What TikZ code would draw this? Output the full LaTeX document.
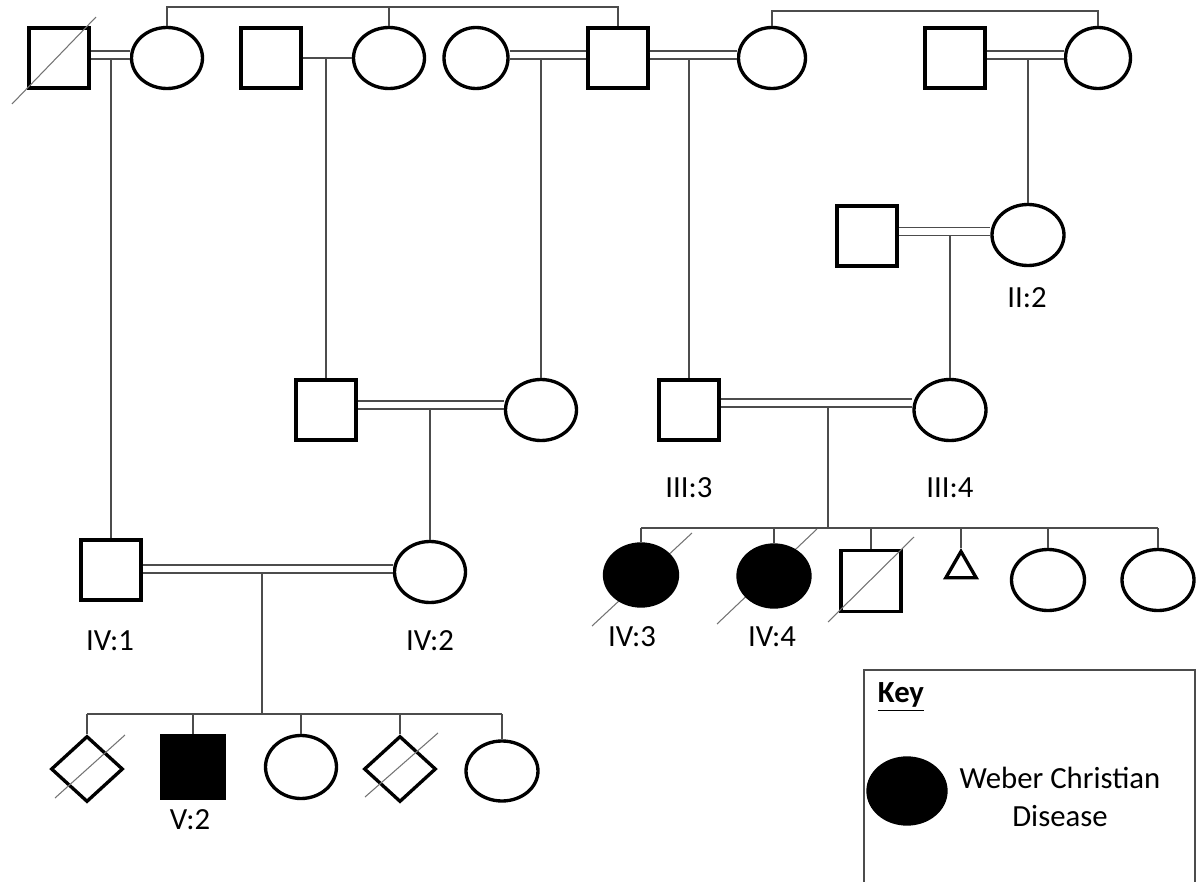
\documentclass[tikz,border=0pt]{standalone}
\usepackage{fontspec}
\setmainfont{Carlito}
\usepackage{tikz}
\usetikzlibrary{shapes.geometric, backgrounds}

\begin{document}
\begin{tikzpicture}[
    x=0.02cm, y=-0.02cm,
    male/.style={
        rectangle,
        draw=black,
        line width=1.9pt,
        minimum size=1.2cm,
        inner sep=0pt
    },
    female/.style={
        ellipse,
        draw=black,
        line width=1.9pt,
        minimum width=1.42cm,
        minimum height=1.22cm,
        inner sep=0pt
    },
    unknown/.style={
        diamond,
        draw=black,
        line width=1.9pt,
        minimum width=1.44cm,
        minimum height=1.32cm,
        inner sep=0pt
    },
    miscarriage/.style={
        regular polygon,
        regular polygon sides=3,
        draw=black,
        line width=1.9pt,
        minimum size=0.7cm,
        inner sep=0pt
    },
    affected/.style={fill=black},
    link/.style={draw=black!70, line width=0.7pt},
    marriage/.style={
        draw=black!70,
        line width=0.7pt,
        double=white,
        double distance=3.85pt
    },
    slash/.style={draw=black!55, line width=0.6pt},
    tag/.style={font=\fontsize{17.5}{20}\selectfont, inner sep=0pt}
]
\useasboundingbox (0,0) rectangle (1198,882);

% --- Generation I ---
\node[male] (i1) at (59,58) {};
\node[female] (i2) at (167,58) {};
\node[male] (i3) at (271,58) {};
\node[female] (i4) at (389,58) {};
\node[female, minimum width=1.28cm] (i5) at (476,58) {};
\node[male] (i6) at (618,58) {};
\node[female, minimum width=1.34cm] (i7) at (772,58) {};
\node[male] (i8) at (955,58) {};
\node[female, minimum width=1.3cm] (i9) at (1098,58) {};

\draw[slash] ([shift={(-47,46)}]i1.center) -- ([shift={(37,-41)}]i1.center);

\draw[link] (i2.north) -- (i2.north |- 0,7) -- (i6.north |- 0,7) -- (i6.north);
\draw[link] (i4.north) -- (i4.north |- 0,7);
\draw[link] (i7.north) -- (i7.north |- 0,11) -- (i9.north |- 0,11) -- (i9.north);

\draw[marriage] (i1.east |- 0,55) -- (i2.west |- 0,55);
\draw[link] (i3.east) -- (i4.west);
\draw[marriage] (i5.east |- 0,55) -- (i6.west |- 0,55);
\draw[marriage] (i6.east |- 0,55) -- (i7.west |- 0,55);
\draw[marriage] (i8.east |- 0,55) -- (i9.west |- 0,55);

% --- Generation II ---
\node[male] (ii1) at (867,236) {};
\node[female, minimum width=1.44cm] (ii2) at (1028,235) {};
\node[tag] (l-ii2) at (1027,298) {II:2};

\draw[link] (ii2.north) -- (ii2.north |- 0,59);
\draw[marriage] (ii1.east |- 0,231.5) -- (ii2.west |- 0,231.5);

% --- Generation III ---
\node[male] (iii1) at (326,410) {};
\node[female] (iii2) at (541,410) {};
\node[male] (iii3) at (689,410) {};
\node[female, minimum width=1.44cm] (iii4) at (950,410) {};
\node[tag] (l-iii3) at (689,488) {III:3};
\node[tag] (l-iii4) at (950,488) {III:4};

\draw[link] (iii1.north) -- (iii1.north |- i3.east);
\draw[link] (iii2.north) -- (iii2.north |- 0,59);
\draw[link] (iii3.north) -- (iii3.north |- 0,59);
\draw[link] (iii4.north) -- (iii4.north |- 0,236);

\draw[marriage] (iii1.east |- 0,405) -- (iii2.west |- 0,405);
\draw[marriage] (iii3.east |- 0,403) -- (iii4.west |- 0,403);

% --- Generation IV ---
\node[male] (iv1) at (111,570) {};
\node[female] (iv2) at (430,572) {};
\node[tag] (l-iv1) at (110,641) {IV:1};
\node[tag] (l-iv2) at (430,641) {IV:2};

\draw[link] (iv1.north) -- (iv1.north |- 0,59);
\draw[link] (iv2.north) -- (iv2.north |- 0,410);
\draw[marriage] (iv1.east |- 0,569) -- (iv2.west |- 0,569);

\node[female, affected, minimum width=1.46cm, minimum height=1.24cm] (iv3) at (641,575) {};
\node[female, affected, minimum width=1.44cm, minimum height=1.24cm] (iv4) at (774,576) {};
\node[male, minimum width=1.2cm, minimum height=1.22cm] (iv5) at (871,581) {};
\node[miscarriage] (iv6) at (961,569) {};
\node[female, minimum width=1.46cm] (iv7) at (1048,580) {};
\node[female, minimum width=1.44cm] (iv8) at (1158,580) {};
\node[tag] (l-iv3) at (632,637) {IV:3};
\node[tag] (l-iv4) at (772,637) {IV:4};

\begin{scope}[on background layer]
\draw[slash] ([shift={(-49,51)}]iv3.center) -- ([shift={(51,-42)}]iv3.center);
\draw[slash] ([shift={(-57,48)}]iv4.center) -- ([shift={(43,-47)}]iv4.center);
\end{scope}
\draw[slash] ([shift={(-43,41)}]iv5.center) -- ([shift={(43,-44)}]iv5.center);

\coordinate (sibR) at (828,528);
\draw[link] (sibR |- 0,407) -- (sibR);
\draw[link] (iv3.north |- sibR) -- (iv8.north |- sibR);
\foreach \n in {iv3,iv4,iv5,iv6,iv7,iv8}
    \draw[link] (\n.north) -- (\n.north |- sibR);

% --- Generation V ---
\node[unknown] (v1) at (87,769) {};
\node[male, affected, minimum size=1.26cm] (v2) at (193,767) {};
\node[female, minimum height=1.26cm] (v3) at (301,767) {};
\node[unknown] (v4) at (400,769) {};
\node[female, minimum width=1.44cm, minimum height=1.2cm] (v5) at (502,771) {};
\node[tag] (l-v2) at (190,820) {V:2};

\draw[slash] ([shift={(-32,29)}]v1.center) -- ([shift={(38,-34)}]v1.center);
\draw[slash] ([shift={(-35,28)}]v4.center) -- ([shift={(38,-36)}]v4.center);

\coordinate (sibL) at (262,714);
\draw[link] (sibL |- 0,573) -- (sibL);
\draw[link] (v1.north |- sibL) -- (v5.north |- sibL);
\foreach \n in {v1,v2,v3,v4,v5}
    \draw[link] (\n.north) -- (\n.north |- sibL);

% --- Key ---
\node[draw=black!70, line width=0.9pt, minimum width=6.62cm, minimum height=4.28cm, inner sep=0pt] (key) at (1029.5,777) {};
\node[tag, font=\fontsize{17.5}{20}\selectfont\bfseries] (keytitle) at (901,697) {\underline{Key}};
\node[female, affected, minimum width=1.56cm, minimum height=1.32cm] (keysym) at (907,791) {};
\node[tag, align=center, font=\fontsize{17.5}{21.6}\selectfont] (keytext) at (1060,797) {Weber Christian\\Disease};

\end{tikzpicture}
\end{document}
